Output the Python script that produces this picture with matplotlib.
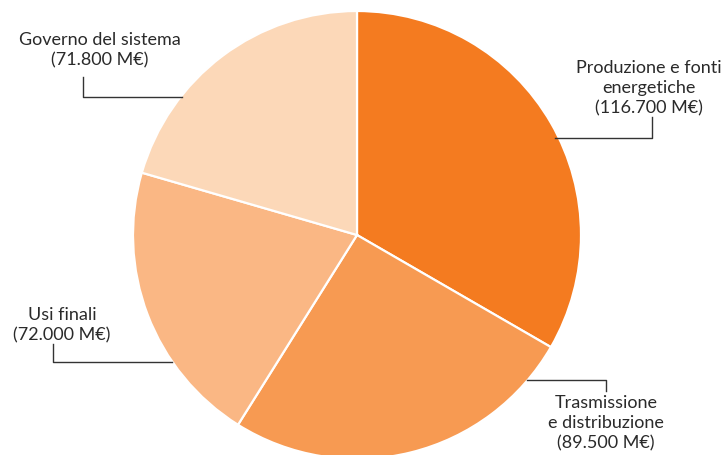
import matplotlib
matplotlib.use("Agg")
import matplotlib.pyplot as plt

labels = ["Produzione e fonti\nenergetiche\n(116.700 M€)",
          "Trasmissione\ne distribuzione\n(89.500 M€)",
          "Usi finali\n(72.000 M€)",
          "Governo del sistema\n(71.800 M€)"]
values = [116700, 89500, 72000, 71800]
colors = ["#F47B20", "#F79A52", "#FAB784", "#FCD8B8"]

W, H = 722, 456
fig = plt.figure(figsize=(W / 100, H / 100), dpi=100)
ax = fig.add_axes([0, 0, 1, 1])

def Y(yp):
    return H - yp

cx, cy, r = 357, Y(236), 224
ax.pie(values, colors=colors, startangle=90, counterclock=False,
       center=(cx, cy), radius=r, frame=True,
       wedgeprops=dict(edgecolor="white", linewidth=1.6))
ax.set_xlim(0, W)
ax.set_ylim(0, H)
ax.set_aspect("equal")
ax.axis("off")

lc = "#333333"
lw = 1.0
# leader lines (pixel coords)
ax.plot([83, 83, 182], [Y(78), Y(98), Y(98)], color=lc, lw=lw)
ax.plot([555, 652, 652], [Y(139), Y(139), Y(118)], color=lc, lw=lw)
ax.plot([53, 53, 172], [Y(345), Y(363), Y(363)], color=lc, lw=lw)
ax.plot([527, 606, 606], [Y(381), Y(381), Y(392)], color=lc, lw=lw)

font = dict(family=["Lato", "DejaVu Sans"], fontsize=13, color="#2a2a2a",
            ha="center", linespacing=1.32)
ax.text(100, Y(68), labels[3], va="bottom", **font)
ax.text(649, Y(116), labels[0], va="bottom", **font)
ax.text(62, Y(343), labels[2], va="bottom", **font)
ax.text(606, Y(395), labels[1], va="top", **font)

fig.savefig("out.png", dpi=100)
